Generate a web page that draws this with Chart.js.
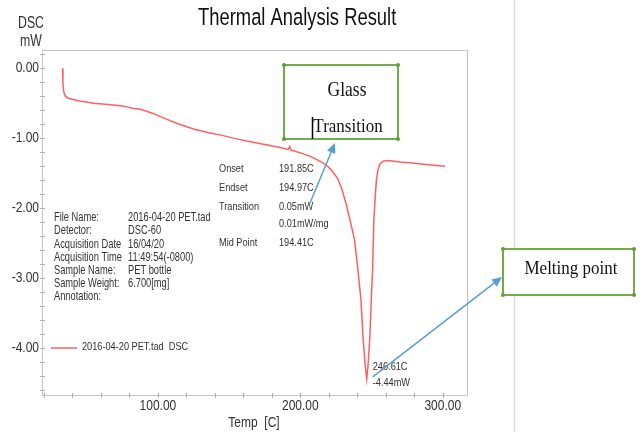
<!DOCTYPE html>
<html>
<head>
<meta charset="utf-8">
<script src="https://cdn.jsdelivr.net/npm/chart.js@4.4.1/dist/chart.umd.min.js"></script>
<style>
  body { margin: 0; background: #fff; }
  #wrap { position: relative; width: 641px; height: 432px; }
</style>
</head>
<body>
<div id="wrap"><canvas id="chart" width="641" height="432"></canvas></div>
<script>
// DSC curve (temp in C, heat flow in mW)
const temps = [33.0, 33.3, 33.8, 35.0, 37.0, 45.0, 55.0, 65.0, 75.0, 80.0, 83.0, 86.0, 90.0, 97.0,
    105.0, 115.0, 125.0, 135.0, 145.0, 155.0, 165.0, 175.0, 185.0, 191.5, 192.5, 193.5, 200.0,
    207.0, 213.0, 218.0, 222.0, 226.0, 229.0, 232.0, 235.0, 238.0, 240.5, 242.5, 244.0, 245.5,
    246.61, 247.5, 248.8, 250.0, 250.7, 251.6, 252.5, 253.4, 254.5, 255.8, 258.0, 262.0, 270.0,
    280.0, 290.0, 301.5];
const dsc = [0.00, -0.20, -0.33, -0.40, -0.43, -0.47, -0.50, -0.52, -0.54, -0.56, -0.58, -0.58, -0.60, -0.65,
    -0.72, -0.80, -0.87, -0.92, -0.96, -1.01, -1.05, -1.09, -1.13, -1.16, -1.12, -1.17, -1.21,
    -1.26, -1.32, -1.38, -1.46, -1.57, -1.72, -1.93, -2.18, -2.45, -2.90, -3.30, -3.84, -4.25,
    -4.44, -4.25, -3.84, -3.20, -2.89, -2.17, -1.85, -1.60, -1.45, -1.37, -1.33, -1.32, -1.34,
    -1.36, -1.38, -1.40];

const xTicks = [20, 40, 60, 80, 100, 120, 140, 160, 180, 200, 220, 240, 260, 280, 300];
const xLabels = [100, 200, 300];
const yTicks = [0.2, 0, -0.2, -0.4, -0.6, -0.8, -1, -1.2, -1.4, -1.6, -1.8, -2, -2.2, -2.4, -2.6,
    -2.8, -3, -3.2, -3.4, -3.6, -3.8, -4, -4.2, -4.4, -4.6];
const yLabels = [0, -1, -2, -3, -4];

const fileInfo = [
    ['File Name:', '2016-04-20 PET.tad'],
    ['Detector:', 'DSC-60'],
    ['Acquisition Date', '16/04/20'],
    ['Acquisition Time', '11:49:54(-0800)'],
    ['Sample Name:', 'PET bottle'],
    ['Sample Weight:', '6.700[mg]'],
    ['Annotation:', '']
];
const glassInfo = [
    ['Onset', '191.85C'],
    ['Endset', '194.97C'],
    ['Transition', '0.05mW'],
    ['', '0.01mW/mg'],
    ['Mid Point', '194.41C']
];
const peak = { temp: 246.61, value: -4.44 };
const seriesName = '2016-04-20 PET.tad  DSC';

const RED = 'rgb(255, 95, 95)';
const SANS = '"Liberation Sans", Arial, sans-serif';
const SERIF = '"Liberation Serif", "Times New Roman", serif';
const STRETCH = 1.28; // the source picture is stretched vertically

function txt(ctx, s, x, y, size, o = {}) {
    ctx.save();
    ctx.font = `${size}px ${o.family || SANS}`;
    ctx.fillStyle = o.color || '#333';
    ctx.textAlign = o.align || 'left';
    ctx.textBaseline = 'middle';
    ctx.translate(x, y);
    ctx.scale(1, o.sy || STRETCH);
    ctx.fillText(s, 0, 0);
    ctx.restore();
}

function line(ctx, x1, y1, x2, y2, color, w) {
    ctx.save();
    ctx.strokeStyle = color;
    ctx.lineWidth = w;
    ctx.beginPath();
    ctx.moveTo(x1, y1);
    ctx.lineTo(x2, y2);
    ctx.stroke();
    ctx.restore();
}

function arrow(ctx, x1, y1, x2, y2) {
    const a = Math.atan2(y2 - y1, x2 - x1);
    const head = 10, w = 4.5;
    const bx = x2 - head * Math.cos(a), by = y2 - head * Math.sin(a);
    line(ctx, x1, y1, bx, by, '#5b9bd5', 1.5);
    ctx.save();
    ctx.fillStyle = '#5b9bd5';
    ctx.beginPath();
    ctx.moveTo(x2, y2);
    ctx.lineTo(bx - w * Math.sin(a), by + w * Math.cos(a));
    ctx.lineTo(bx + w * Math.sin(a), by - w * Math.cos(a));
    ctx.closePath();
    ctx.fill();
    ctx.restore();
}

function box(ctx, x, y, w, h) {
    ctx.save();
    ctx.fillStyle = '#fff';
    ctx.fillRect(x, y, w, h);
    ctx.strokeStyle = '#70ad47';
    ctx.lineWidth = 2;
    ctx.strokeRect(x, y, w, h);
    ctx.fillStyle = '#5f9a3b';
    for (const [px, py] of [[x, y], [x + w, y], [x, y + h], [x + w, y + h]]) {
        ctx.beginPath();
        ctx.arc(px, py, 2, 0, Math.PI * 2);
        ctx.fill();
    }
    ctx.restore();
}

const decor = {
    id: 'decor',
    afterDraw(chart) {
        const ctx = chart.ctx;
        const xs = chart.scales.x, ys = chart.scales.y;
        const a = chart.chartArea;

        // separator on the right
        line(ctx, 514.5, 0, 514.5, 432, '#dcdcdc', 1.5);

        // plot frame
        ctx.save();
        ctx.strokeStyle = '#c4c4c4';
        ctx.lineWidth = 1;
        ctx.strokeRect(a.left + 0.5, a.top + 0.5, a.right - a.left, a.bottom - a.top);
        ctx.restore();

        // ticks
        for (const v of xTicks) {
            const px = Math.round(xs.getPixelForValue(v)) + 0.5;
            line(ctx, px, a.bottom - 2, px, a.bottom + 3, '#b0b0b0', 1);
        }
        for (const v of yTicks) {
            const py = Math.round(ys.getPixelForValue(v)) + 0.5;
            line(ctx, a.left - 2, py, a.left + 3, py, '#b0b0b0', 1);
        }
        for (const v of xLabels) txt(ctx, v.toFixed(2), xs.getPixelForValue(v), 406, 12, { align: 'center' });
        for (const v of yLabels) txt(ctx, v.toFixed(2), 39, ys.getPixelForValue(v), 12, { align: 'right' });

        // titles
        txt(ctx, 'Thermal Analysis Result', 198, 18.5, 18.4, { color: '#111' });
        txt(ctx, 'DSC', 31, 24, 12.3, { align: 'center' });
        txt(ctx, 'mW', 31, 42, 12.3, { align: 'center' });
        txt(ctx, 'Temp  [C]', 254, 423, 12, { align: 'center' });

        // file info block
        fileInfo.forEach(([k, v], i) => {
            const y = 218 + i * 13.2;
            txt(ctx, k, 54, y, 9.3);
            txt(ctx, v, 128, y, 9.3);
        });

        // glass transition results
        const gy = [169, 188, 207, 224, 243];
        glassInfo.forEach(([k, v], i) => {
            txt(ctx, k, 219, gy[i], 9.2);
            txt(ctx, v, 279, gy[i], 9.2);
        });

        // legend
        line(ctx, 51, 348, 77, 348, RED, 1.5);
        txt(ctx, seriesName, 82, 347, 9.2);

        // peak
        const ppx = xs.getPixelForValue(peak.temp), ppy = ys.getPixelForValue(peak.value);
        txt(ctx, peak.temp.toFixed(2) + 'C', ppx + 6, ppy - 12, 9.2);
        txt(ctx, peak.value.toFixed(2) + 'mW', ppx + 6, ppy + 4, 9.2);

        // callouts
        box(ctx, 284, 65, 114, 74);
        txt(ctx, 'Glass', 347, 91, 17.5, { family: SERIF, color: '#111', align: 'center', sy: 1.15 });
        txt(ctx, 'Transition', 348, 127, 17, { family: SERIF, color: '#111', align: 'center', sy: 1.15 });
        line(ctx, 312.5, 117, 312.5, 139, '#000', 1.5);
        arrow(ctx, 310, 203, 335, 143);

        box(ctx, 503, 249, 131, 46);
        txt(ctx, 'Melting point', 571, 269, 17, { family: SERIF, color: '#111', align: 'center', sy: 1.15 });
        arrow(ctx, ppx + 6, ppy - 2, 502, 277);
    }
};

new Chart(document.getElementById('chart'), {
    type: 'scatter',
    data: {
        datasets: [{
            label: seriesName,
            data: temps.map((t, i) => ({ x: t, y: dsc[i] })),
            showLine: true,
            borderColor: RED,
            borderWidth: 1.5,
            pointRadius: 0,
            tension: 0
        }]
    },
    options: {
        responsive: false,
        animation: false,
        devicePixelRatio: 1,
        layout: { padding: { left: 0, right: 174, top: 50, bottom: 0 } },
        plugins: { legend: { display: false }, tooltip: { enabled: false }, title: { display: false } },
        scales: {
            x: {
                type: 'linear', min: 18.6, max: 317,
                afterBuildTicks: s => { s.ticks = xTicks.map(v => ({ value: v })); },
                afterFit: s => { s.height = 37; },
                ticks: { display: false }, grid: { display: false }, border: { display: false }
            },
            y: {
                type: 'linear', min: -4.67, max: 0.26,
                afterBuildTicks: s => { s.ticks = yTicks.map(v => ({ value: v })); },
                afterFit: s => { s.width = 42; },
                ticks: { display: false }, grid: { display: false }, border: { display: false }
            }
        }
    },
    plugins: [decor]
});
</script>
</body>
</html>
